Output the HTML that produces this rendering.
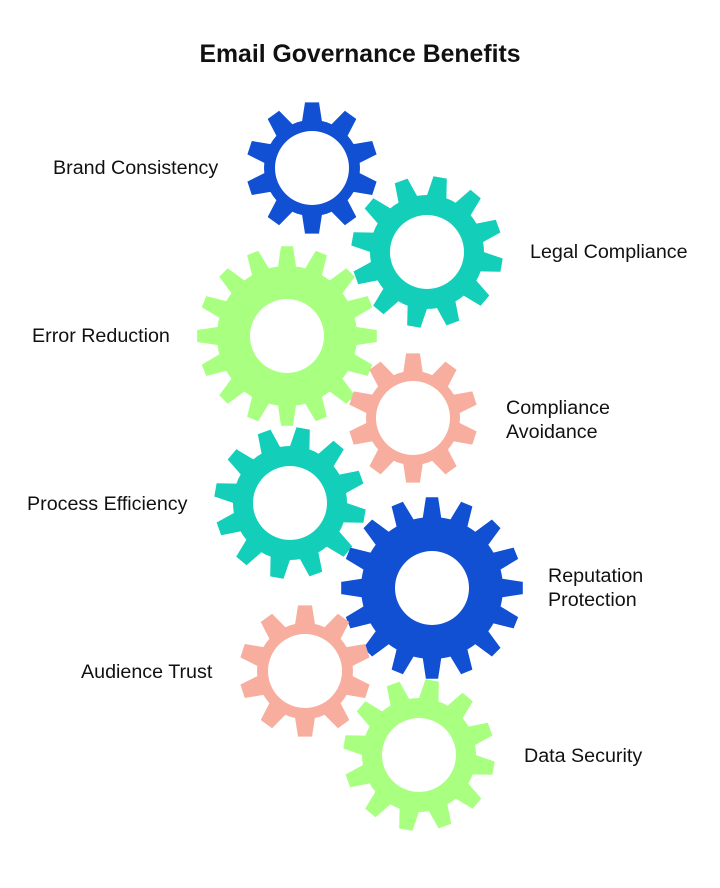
<!DOCTYPE html>
<html><head><meta charset="utf-8"><style>
body{margin:0;background:#fff;}
svg text{font-family:"Liberation Sans",Arial,sans-serif;fill:#111;}
</style></head><body>
<svg id="s" width="720" height="883" xmlns="http://www.w3.org/2000/svg">
<text x="360" y="62" text-anchor="middle" font-size="24.8" font-weight="bold">Email Governance Benefits</text>
<g font-size="19.7">
<text x="53" y="174">Brand Consistency</text>
<text x="530" y="258">Legal Compliance</text>
<text x="32" y="342">Error Reduction</text>
<text x="506" y="414">Compliance</text>
<text x="506" y="438">Avoidance</text>
<text x="27" y="510">Process Efficiency</text>
<text x="548" y="582">Reputation</text>
<text x="548" y="606">Protection</text>
<text x="81" y="678">Audience Trust</text>
<text x="524" y="762">Data Security</text>
</g>
<g id="g"></g>
</svg>
<script>
var gears=[
[312,168,66,48,37,10,'#1150d3',-90],
[427,252,76,57,37,12,'#13ceb9',-80],
[287,336,90,70,37,16,'#a8ff80',-90],
[413,418,65,47,37,10,'#f8ae9f',-90],
[290,503,76,57,37,12,'#13ceb9',-80],
[432,588,91,71,37,16,'#1150d3',-90],
[305,671,66,48,37,10,'#f8ae9f',-90],
[419,755,76,57,37,12,'#a8ff80',-80]];
var out='';
gears.forEach(function(g){
 var cx=g[0],cy=g[1],R=g[2],r=g[3],h=g[4],n=g[5],c=g[6],a0=g[7]*Math.PI/180;
 var p=2*Math.PI/n,d='';
 for(var i=0;i<n;i++){
  var a=a0+i*p;
  var pts=[[r,a-0.33*p],[R,a-0.17*p],[R,a+0.17*p],[r,a+0.33*p],[r,a+0.5*p]];
  pts.forEach(function(q,j){
   var x=(cx+q[0]*Math.cos(q[1])).toFixed(1),y=(cy+q[0]*Math.sin(q[1])).toFixed(1);
   d+=(i==0&&j==0?'M':'L')+x+' '+y+' ';
  });
 }
 d+='Z M'+(cx+h)+' '+cy+' A'+h+' '+h+' 0 1 0 '+(cx-h)+' '+cy+' A'+h+' '+h+' 0 1 0 '+(cx+h)+' '+cy+' Z';
 out+='<path fill-rule="evenodd" fill="'+c+'" d="'+d+'"/>';
});
document.getElementById('g').innerHTML=out;
</script>
</body></html>
